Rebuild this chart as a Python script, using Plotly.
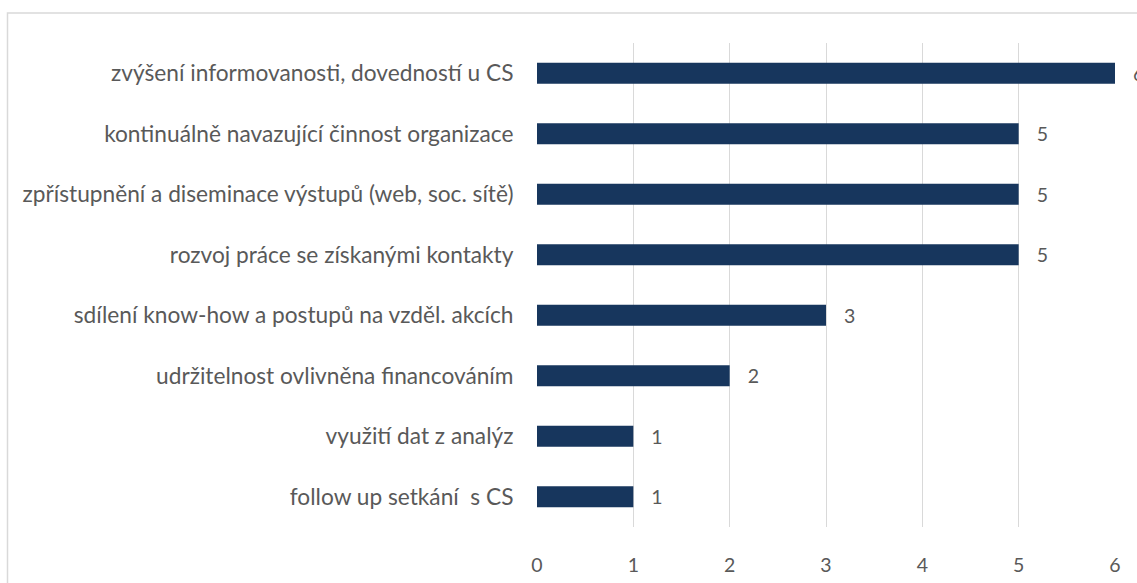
import plotly.graph_objects as go

categories = [
    "zvýšení informovanosti, dovedností u CS",
    "kontinuálně navazující činnost organizace",
    "zpřístupnění a diseminace výstupů (web, soc. sítě)",
    "rozvoj práce se získanými kontakty",
    "sdílení know-how a postupů na vzděl. akcích",
    "udržitelnost ovlivněna financováním",
    "využití dat z analýz",
    "follow up setkání  s CS",
]
values = [6, 5, 5, 5, 3, 2, 1, 1]
x_ticks = [0, 1, 2, 3, 4, 5, 6]

FONT = "Lato"
FS = 22.7
FS_NUM = 19.5
TXT = "#595959"
BAR = "#17365D"

fig = go.Figure(go.Bar(
    x=values, y=categories, orientation="h",
    marker=dict(color=BAR, line=dict(width=0)),
    text=["   " + str(v) for v in values],
    textposition="outside",
    constraintext="none",
    textfont=dict(family=FONT, size=FS_NUM, color=TXT),
    cliponaxis=False,
    hoverinfo="skip",
))

W, H = 1137, 583
L, R, T, B = 537, 22, 43, 56
pw, ph = W - L - R, H - T - B

def px_x(p):
    return (p - L) / pw

def px_y(p):
    return (H - B - p) / ph

fig.update_layout(
    width=W, height=H,
    margin=dict(l=L, r=R, t=T, b=B, autoexpand=False),
    paper_bgcolor="white", plot_bgcolor="white",
    bargap=0.65,
    showlegend=False,
    font=dict(family=FONT, size=FS, color=TXT),
    xaxis=dict(
        range=[0, 6], tickvals=x_ticks, showgrid=True, gridcolor="#D9D9D9", gridwidth=1,
        zeroline=False, showline=False, ticks="outside", ticklen=21,
        tickcolor="rgba(0,0,0,0)", tickfont=dict(family=FONT, size=FS_NUM, color=TXT),
    ),
    yaxis=dict(
        autorange="reversed", showgrid=False, zeroline=False, showline=False,
        ticks="outside", ticklen=18, tickcolor="rgba(0,0,0,0)",
        tickfont=dict(family=FONT, size=FS, color=TXT),
    ),
    shapes=[dict(
        type="rect", xref="paper", yref="paper",
        x0=px_x(7.5), x1=px_x(1150), y0=px_y(600), y1=px_y(13),
        line=dict(color="#D9D9D9", width=1.5), fillcolor="rgba(0,0,0,0)", layer="below",
    )],
)

fig.write_html(
    "out.html",
    config={"displayModeBar": False},
    post_script="document.body.style.margin='0';document.body.style.overflow='hidden';",
)
